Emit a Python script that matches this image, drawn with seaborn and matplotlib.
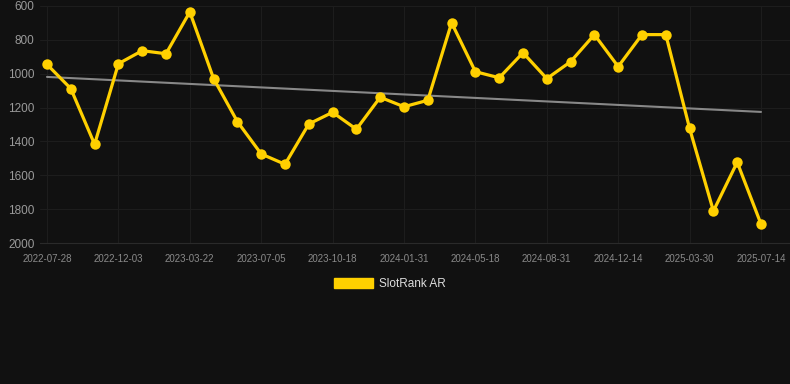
import numpy as np
import pandas as pd
import matplotlib
matplotlib.use("Agg")
import matplotlib.pyplot as plt
import seaborn as sns
from matplotlib.patches import Patch

# ---- data ----
tick_labels = ["2022-07-28", "2022-12-03", "2023-03-22", "2023-07-05", "2023-10-18",
               "2024-01-31", "2024-05-18", "2024-08-31", "2024-12-14", "2025-03-30",
               "2025-07-14"]
rank_values = [945, 1088, 1417, 941, 864, 882, 635, 1029, 1283, 1474,
               1535, 1297, 1228, 1328, 1139, 1195, 1157, 699, 988, 1024,
               876, 1029, 929, 769, 958, 769, 769, 1323, 1811, 1523,
               1888]
series_name = "SlotRank AR"

idx = np.arange(len(rank_values))
df = pd.DataFrame({"idx": idx, "rank": rank_values})

# trend (linear regression)
coef = np.polyfit(idx, rank_values, 1)
df["trend"] = np.polyval(coef, idx)

bg = "#111111"
yellow = "#FFD000"
sns.set_theme(style="dark")
plt.rcParams["font.family"] = ["Liberation Sans", "DejaVu Sans"]

fig = plt.figure(figsize=(7.9, 3.84), dpi=100, facecolor=bg)
ax = fig.add_axes([40 / 790, 1 - 243 / 384, 750 / 790, 237 / 384])
ax.set_facecolor(bg)

sns.lineplot(data=df, x="idx", y="trend", ax=ax, color="#888888", linewidth=1.5, legend=False)
sns.lineplot(data=df, x="idx", y="rank", ax=ax, color=yellow, linewidth=2.3,
             marker="o", markersize=7.5, markeredgewidth=0, legend=False)

ax.set_ylim(2000, 600)
ax.set_yticks([600, 800, 1000, 1200, 1400, 1600, 1800, 2000])
ax.set_xlim(-7 / 23.8, 30 + 29 / 23.8)
ax.set_xticks(idx[::3])
ax.set_xticklabels(tick_labels)

ax.grid(True, color="#1d1d1d", linewidth=0.8)
for s in ax.spines.values():
    s.set_visible(False)
ax.spines["bottom"].set_visible(True)
ax.spines["bottom"].set_color("#2a2a2a")
ax.spines["bottom"].set_linewidth(0.8)
ax.tick_params(axis="y", colors="#9a9a9a", labelsize=8.5, length=0, pad=4)
ax.tick_params(axis="x", colors="#8a8a8a", labelsize=7, length=0, pad=8)
ax.set_xlabel("")
ax.set_ylabel("")

fig.legend(handles=[Patch(facecolor=yellow, edgecolor=yellow, label=series_name)],
           loc="center", bbox_to_anchor=(390 / 790, 1 - 284 / 384), frameon=False,
           handlelength=3.3, handleheight=0.9, handletextpad=0.5,
           labelcolor="#dddddd", fontsize=8.5)

fig.savefig("out.png", dpi=100, facecolor=bg)
